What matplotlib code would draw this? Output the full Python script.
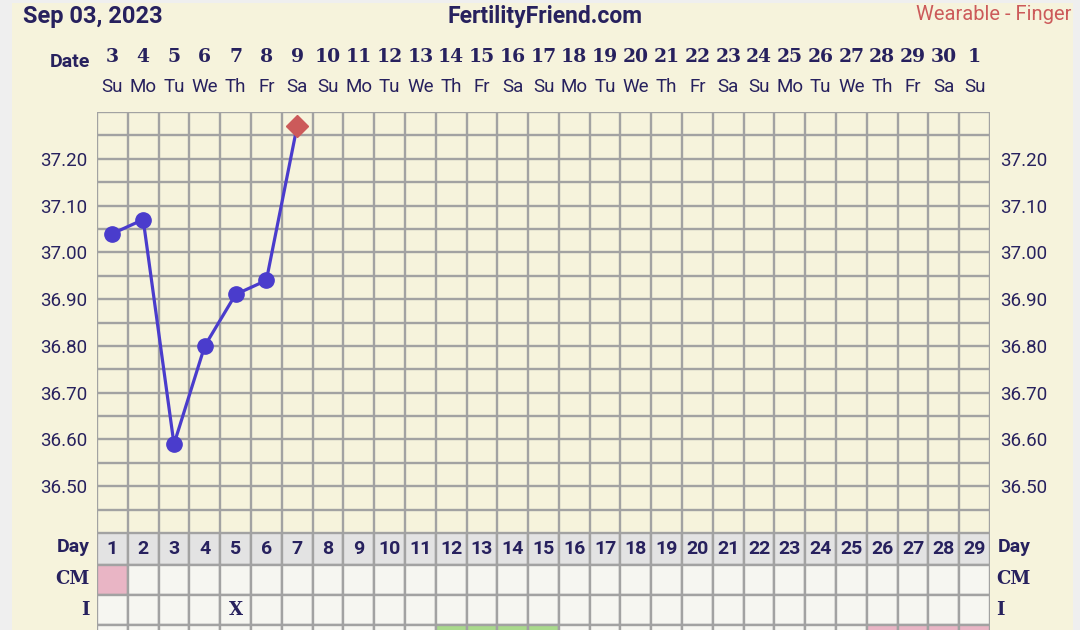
import matplotlib
matplotlib.use('Agg')
import matplotlib.pyplot as plt
import matplotlib.transforms as mtransforms
import numpy as np

# ── data ─────────────────────────────────────────────────────────────────────
cycle_days = list(range(1, 30))
dates = list(range(3, 31)) + [1]
weekdays = ['Su', 'Mo', 'Tu', 'We', 'Th', 'Fr', 'Sa'] * 4 + ['Su']

temp_days = [1, 2, 3, 4, 5, 6, 7]
temps = [37.04, 37.07, 36.59, 36.80, 36.91, 36.94, 37.27]
y_ticks = [36.50, 36.60, 36.70, 36.80, 36.90, 37.00, 37.10, 37.20]

cm_days = [1]            # pink CM cell
intercourse_days = [5]   # X mark
green_days = [12, 13, 14, 15]
pink_days = [26, 27, 28, 29]

# ── colours ──────────────────────────────────────────────────────────────────
BG_OUT = '#efefef'
CREAM = '#f6f3dc'
GRID = '#a2a2a2'
NAVY = '#27215e'
LINE = '#4a3ccc'
DIAM = '#cc5a5a'
CELL = '#f6f6f1'
HEAD = '#e3e3e3'
PINK = '#e9b5c5'
GREEN = '#a9da8c'

W, H = 1080, 630
fig = plt.figure(figsize=(W / 100, H / 100), dpi=100)
fig.patch.set_facecolor(BG_OUT)
plt.rcParams['font.family'] = ['Roboto', 'DejaVu Sans']


def fx(px):
    return px / W


def fy(py):
    return 1 - py / H


# cream panel
bg = fig.add_axes([fx(12), 0, fx(1073) - fx(12), fy(3)])
bg.set_facecolor(CREAM)
bg.set_xticks([]); bg.set_yticks([])
for s in bg.spines.values():
    s.set_visible(False)
bg.set_zorder(0)

# ── temperature chart ───────────────────────────────────────────────────────
L, R, T, B = 97, 990, 112, 533
ax = fig.add_axes([fx(L), fy(B), fx(R) - fx(L), fy(T) - fy(B)])
ax.set_facecolor(CREAM)
ax.set_zorder(2)
ax.set_xlim(0.5, 29.5)
ax.set_ylim(36.40, 37.30)
for xv in np.arange(0.5, 30, 1):
    ax.axvline(xv, color=GRID, lw=1.7, zorder=1)
for yv in np.arange(36.40, 37.31, 0.05):
    ax.axhline(yv, color=GRID, lw=1.7, zorder=1)
for s in ax.spines.values():
    s.set_visible(False)
ax.set_xticks([])
ax.set_yticks(y_ticks)
ax.set_yticklabels([f'{v:.2f}' for v in y_ticks], fontsize=13.5, color=NAVY)
ax.tick_params(axis='y', length=0, pad=7, labelright=True, right=False)

ax.plot(temp_days, temps, color=LINE, lw=2.3, zorder=3)
ax.plot(temp_days[:-1], temps[:-1], 'o', color=LINE, ms=11, zorder=4)
ax.plot(temp_days[-1:], temps[-1:], 'D', color=DIAM, ms=11, zorder=4)

# date / weekday header
tr = mtransforms.blended_transform_factory(ax.transData, fig.transFigure)
for d, dt, wd in zip(cycle_days, dates, weekdays):
    fig.text(d, fy(57), str(dt), transform=tr, ha='center', va='center',
             fontsize=13.5, fontweight='bold', color=NAVY, family='DejaVu Serif')
    fig.text(d, fy(87), wd, transform=tr, ha='center', va='center',
             fontsize=13.5, color=NAVY)
fig.text(fx(90), fy(62), 'Date', ha='right', va='center', fontsize=14,
         fontweight='bold', color=NAVY)

fig.text(fx(23), fy(17), 'Sep 03, 2023', ha='left', va='center', fontsize=17,
         fontweight='bold', color=NAVY)
fig.text(fx(545), fy(17), 'FertilityFriend.com', ha='center', va='center',
         fontsize=16.5, fontweight='bold', color=NAVY)
fig.text(fx(1071), fy(15), 'Wearable - Finger', ha='right', va='center',
         fontsize=14.5, color=DIAM)

# ── lower table ─────────────────────────────────────────────────────────────
tab = fig.add_axes([fx(L), 0, fx(R) - fx(L), fy(B)])
tab.set_zorder(2)
tab.set_facecolor(CREAM)
tab.set_xlim(0.5, 29.5)
tab.set_ylim(H - B, 0)
for s in tab.spines.values():
    s.set_visible(False)
tab.set_xticks([]); tab.set_yticks([])

rows = [(0, 32), (32, 30), (62, 30), (92, 30)]
day_cols = [HEAD] * 29
cm_cols = [PINK if d in cm_days else CELL for d in cycle_days]
i_cols = [CELL] * 29
x_cols = [GREEN if d in green_days else PINK if d in pink_days else CELL
          for d in cycle_days]
for (top, h), cols in zip(rows, [day_cols, cm_cols, i_cols, x_cols]):
    tab.bar(cycle_days, h, bottom=top, width=1.0, color=cols,
            edgecolor=GRID, linewidth=1.7, zorder=1)

for d in cycle_days:
    tab.text(d, 16, str(d), ha='center', va='center', fontsize=14,
             fontweight='bold', color=NAVY)
for d in intercourse_days:
    tab.text(d, 77, 'X', ha='center', va='center', fontsize=13,
             fontweight='bold', color=NAVY, family='DejaVu Serif')

trt = mtransforms.blended_transform_factory(fig.transFigure, tab.transData)
fig.text(fx(90), 14, 'Day', transform=trt, ha='right', va='center',
         fontsize=14, fontweight='bold', color=NAVY)
fig.text(fx(90), 46, 'CM', transform=trt, ha='right', va='center',
         fontsize=13, fontweight='bold', color=NAVY, family='DejaVu Serif')
fig.text(fx(90), 77, 'I', transform=trt, ha='right', va='center',
         fontsize=13, fontweight='bold', color=NAVY, family='DejaVu Serif')
fig.text(fx(998), 14, 'Day', transform=trt, ha='left', va='center',
         fontsize=14, fontweight='bold', color=NAVY)
fig.text(fx(996), 46, 'CM', transform=trt, ha='left', va='center',
         fontsize=13, fontweight='bold', color=NAVY, family='DejaVu Serif')
fig.text(fx(996), 77, 'I', transform=trt, ha='left', va='center',
         fontsize=13, fontweight='bold', color=NAVY, family='DejaVu Serif')

fig.savefig('out.png', dpi=100, facecolor=BG_OUT)
plt.close(fig)
